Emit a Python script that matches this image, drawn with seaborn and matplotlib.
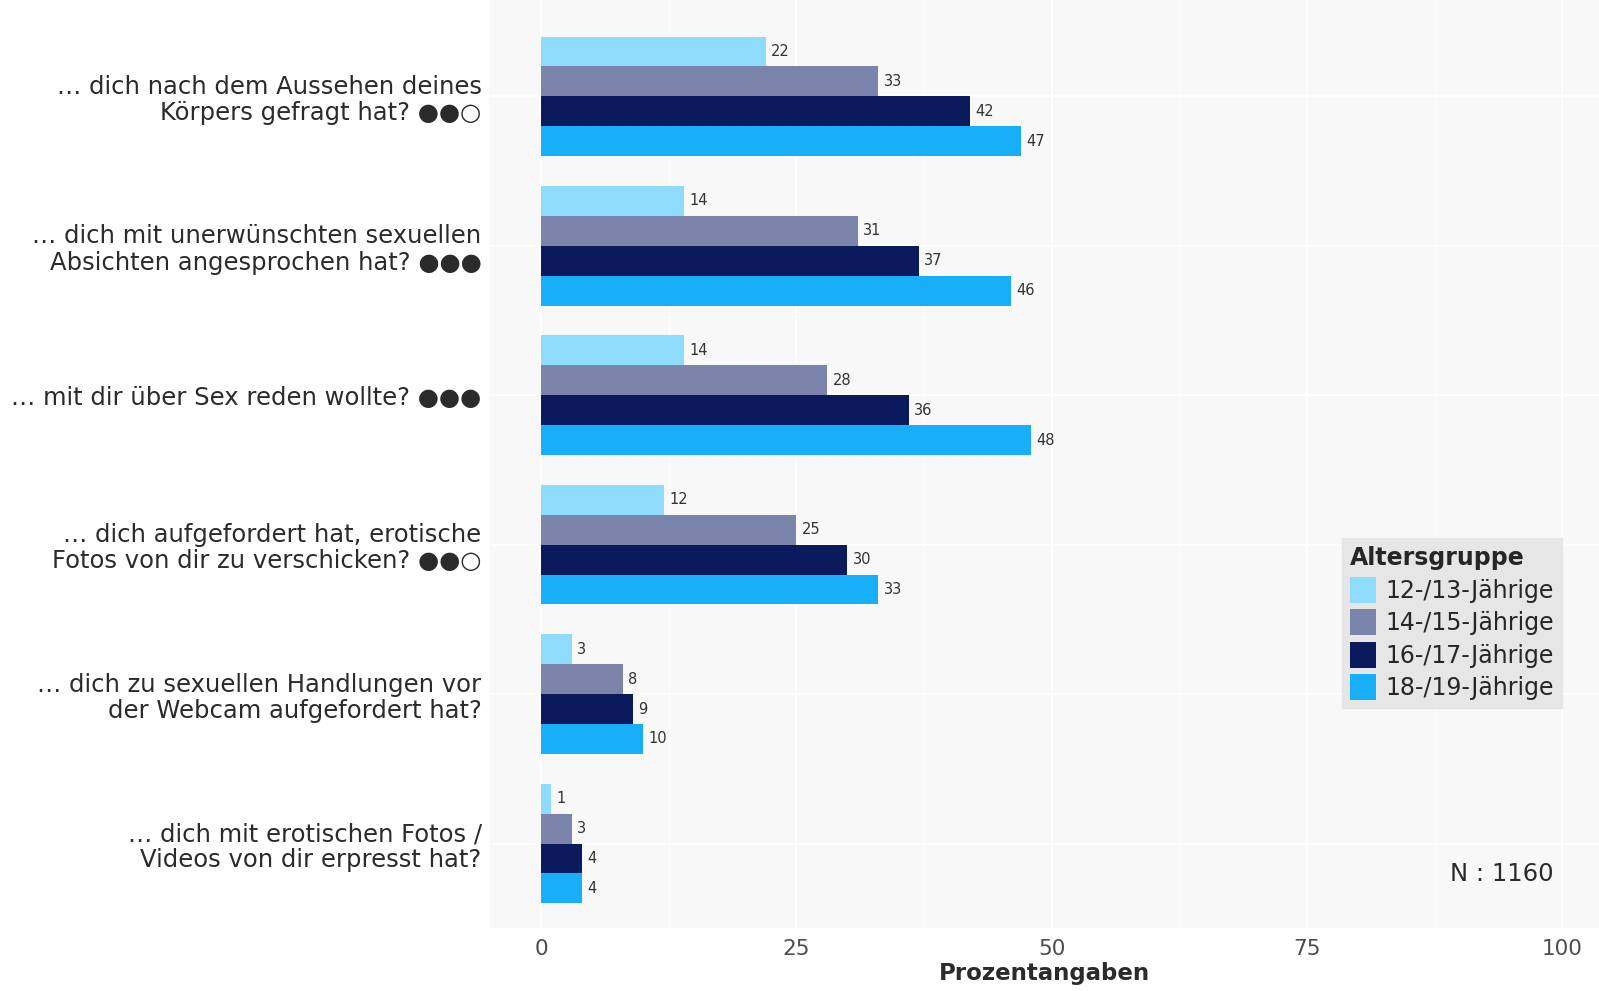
import pandas as pd
import matplotlib
matplotlib.use("Agg")
import matplotlib.pyplot as plt
import seaborn as sns

# survey items (y categories)
items = [
    "… dich nach dem Aussehen deines\nKörpers gefragt hat? ●●○",
    "… dich mit unerwünschten sexuellen\nAbsichten angesprochen hat? ●●●",
    "… mit dir über Sex reden wollte? ●●●",
    "… dich aufgefordert hat, erotische\nFotos von dir zu verschicken? ●●○",
    "… dich zu sexuellen Handlungen vor\nder Webcam aufgefordert hat?",
    "… dich mit erotischen Fotos /\nVideos von dir erpresst hat?",
]
age_groups = ["12-/13-Jährige", "14-/15-Jährige", "16-/17-Jährige", "18-/19-Jährige"]

# percentages per age group, same order as items
vals_12_13 = [22, 14, 14, 12, 3, 1]
vals_14_15 = [33, 31, 28, 25, 8, 3]
vals_16_17 = [42, 37, 36, 30, 9, 4]
vals_18_19 = [47, 46, 48, 33, 10, 4]

colors = ["#8FDBFB", "#7B84AA", "#0A1A5C", "#18AEF8"]

rows = []
for grp, vals in zip(age_groups, [vals_12_13, vals_14_15, vals_16_17, vals_18_19]):
    for item, v in zip(items, vals):
        rows.append({"Frage": item, "Altersgruppe": grp, "Prozent": v})
df = pd.DataFrame(rows)

sns.set_theme(style="white")
plt.rcParams["font.family"] = ["DejaVu Sans"]

fig = plt.figure(figsize=(15.99, 9.91), dpi=100)
ax = fig.add_axes([0.3064, 0.0636, 0.6936, 0.9364])

sns.barplot(data=df, x="Prozent", y="Frage", hue="Altersgruppe", order=items,
            hue_order=age_groups, palette=colors, width=0.8, ax=ax,
            saturation=1, errorbar=None, linewidth=0, zorder=3)

for cont in ax.containers:
    ax.bar_label(cont, padding=4, fontsize=10.5, color="#333333")

ax.set_facecolor("#F8F8F8")
ax.set_xlim(-5, 103.6)
ax.set_ylim(5.565, -0.645)
ax.set_xticks([0, 25, 50, 75, 100])
ax.set_xticks([12.5, 37.5, 62.5, 87.5], minor=True)
ax.grid(True, which="major", axis="both", color="#FFFFFF", lw=1.2, zorder=0)
ax.grid(True, which="minor", axis="x", color="#FFFFFF", lw=0.6, zorder=0)
ax.set_axisbelow(True)
for s in ax.spines.values():
    s.set_visible(False)

ax.tick_params(axis="x", labelsize=15.5, colors="#4D4D4D", length=0, pad=8)
ax.tick_params(axis="y", labelsize=17.5, colors="#2B2B2B", length=0, pad=6)
for lab in ax.get_yticklabels():
    lab.set_horizontalalignment("right")
    lab.set_multialignment("right")
    lab.set_linespacing(1.12)
ax.set_ylabel("")
ax.set_xlabel("Prozentangaben", fontsize=16.5, fontweight="bold", color="#2B2B2B",
              labelpad=2)

leg = ax.legend(title="Altersgruppe", loc="upper left", bbox_to_anchor=(0.768, 0.42),
                fontsize=17, title_fontsize=17, frameon=True, fancybox=False,
                handlelength=1.1, handleheight=1.3, handletextpad=0.4,
                labelspacing=0.28, borderpad=0.35, borderaxespad=0)
leg.get_frame().set_facecolor("#E2E2E2")
leg.get_frame().set_edgecolor("#E2E2E2")
leg.get_title().set_fontweight("bold")
leg._legend_box.align = "left"

ax.text(0.9125, 0.058, "N : 1160", transform=ax.transAxes, fontsize=17.5,
        ha="center", va="center", color="#2B2B2B")

fig.savefig("out.png", dpi=100)
